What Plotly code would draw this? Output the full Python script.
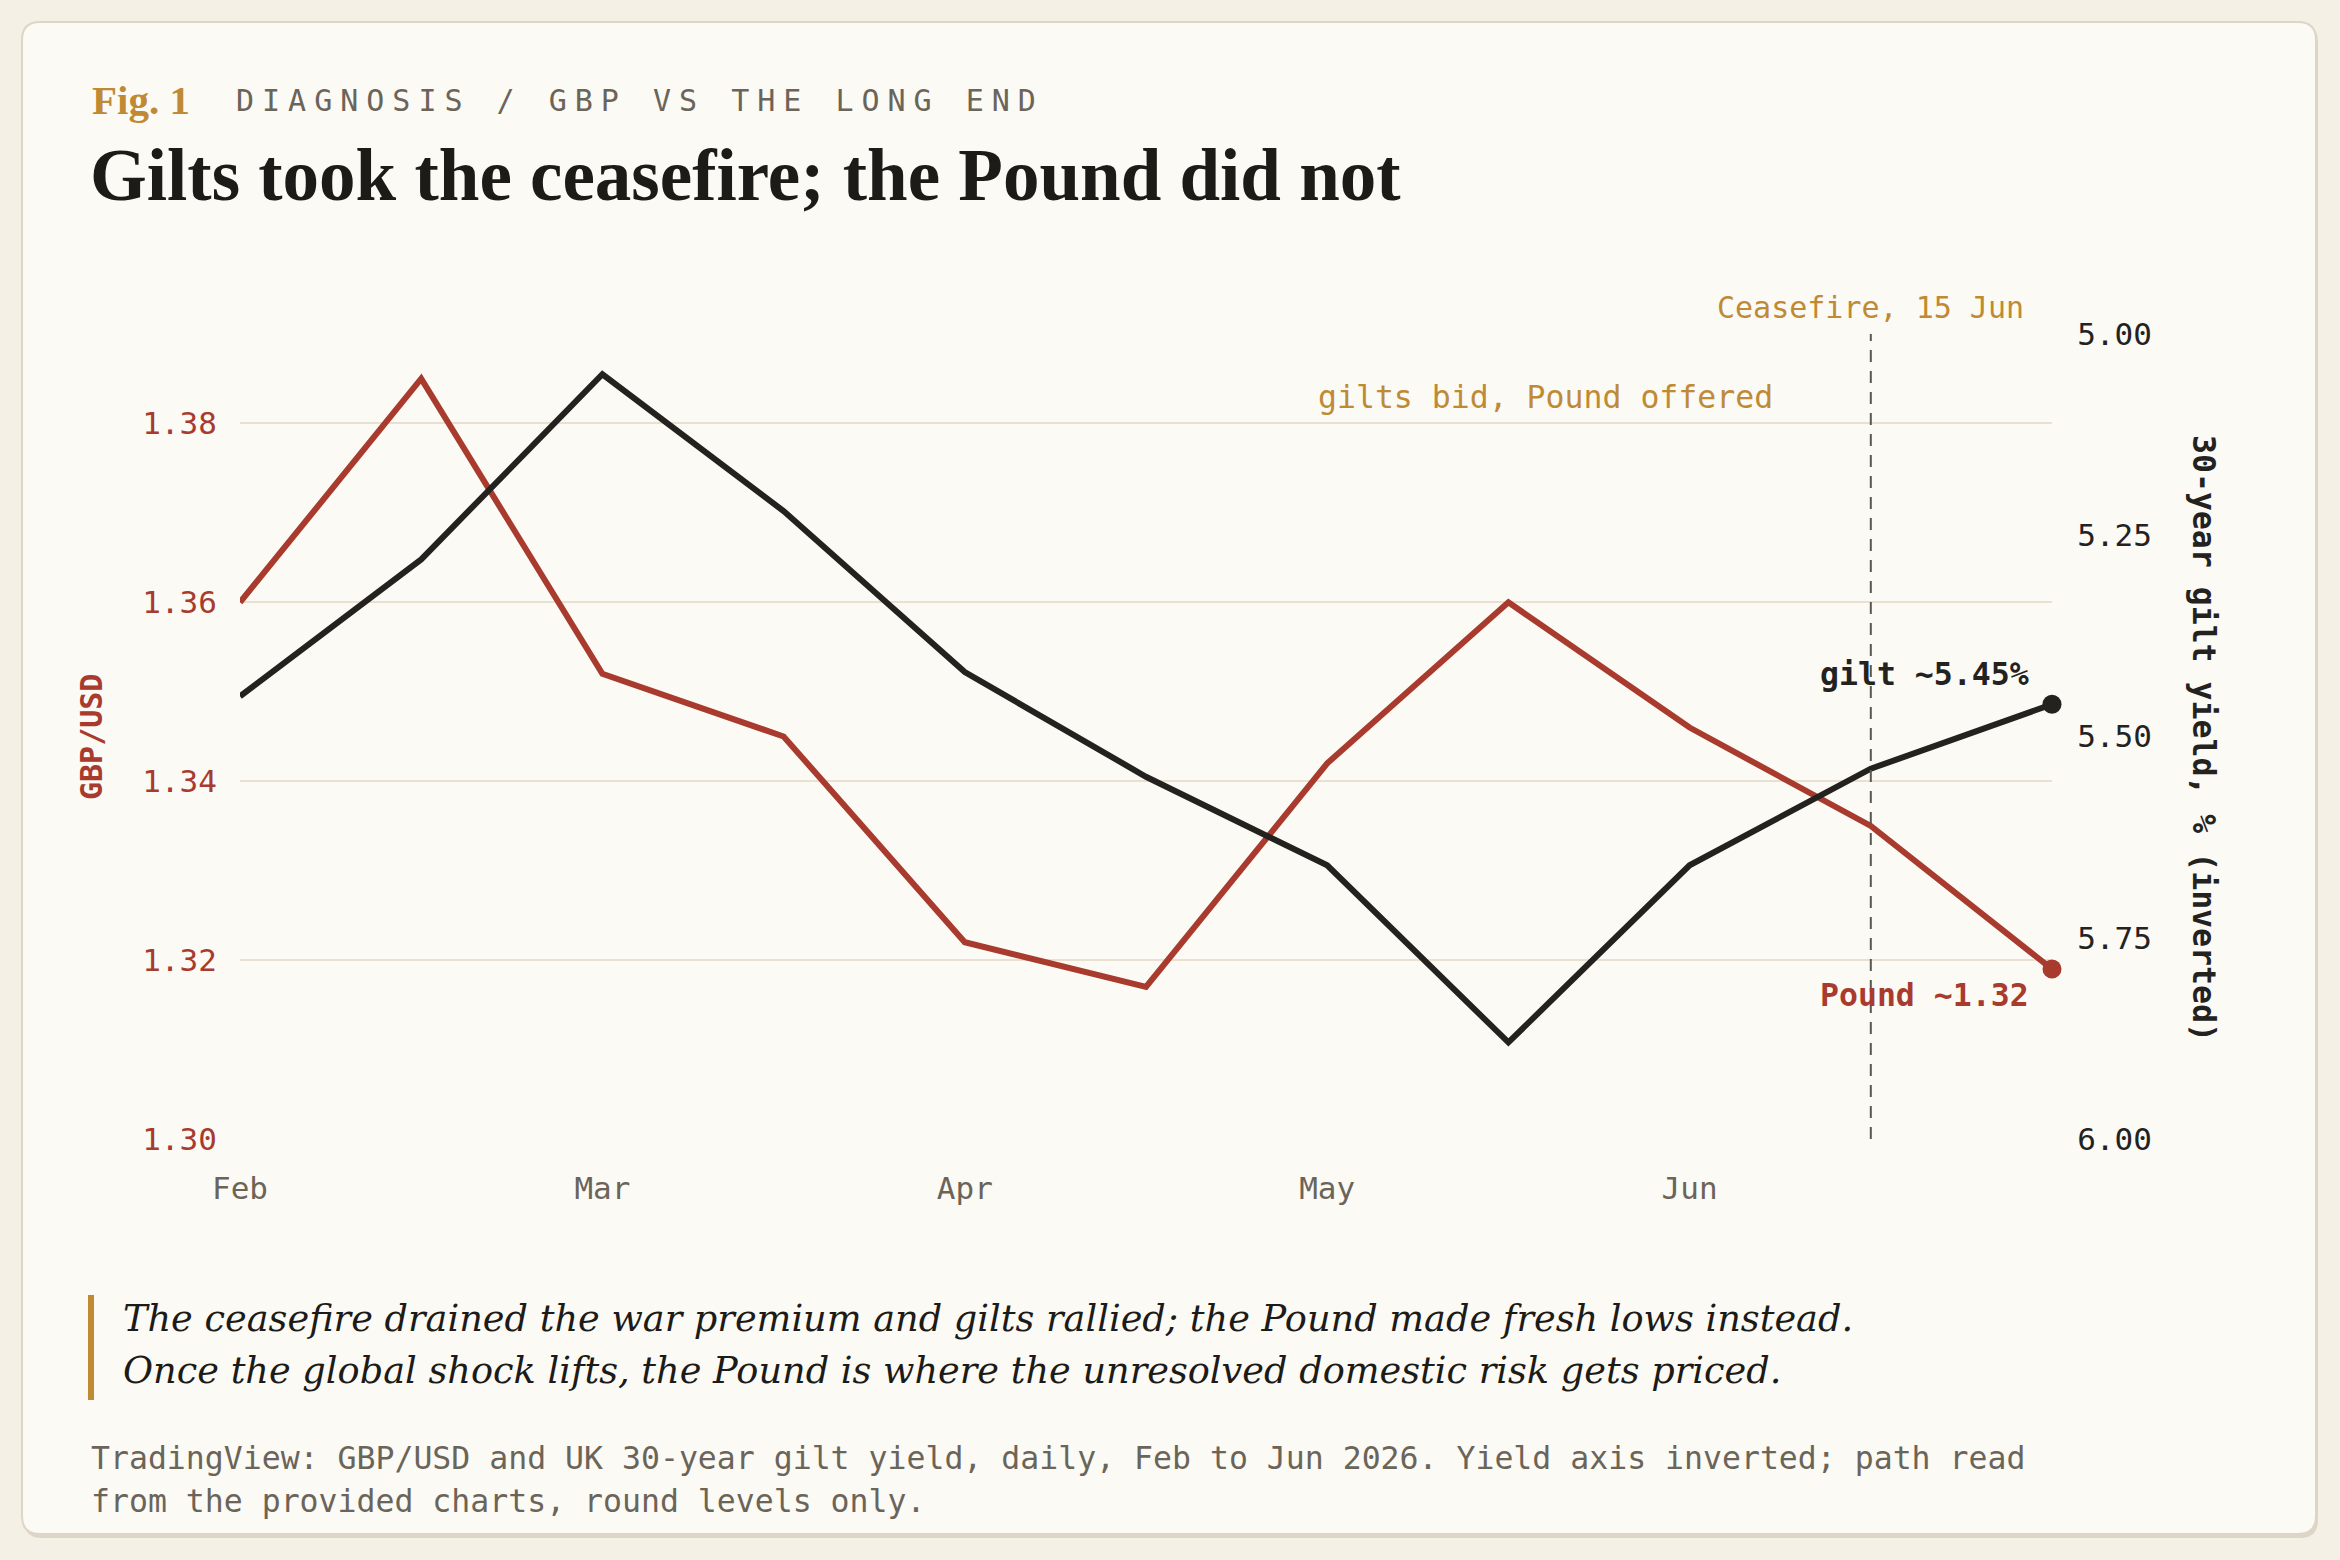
import plotly.graph_objects as go

# ---- data ----
x_pos = [0, 0.5, 1, 1.5, 2, 2.5, 3, 3.5, 4, 4.5, 5]  # months from 1 Feb, half-month steps
gbpusd = [1.360, 1.385, 1.352, 1.345, 1.322, 1.317, 1.342, 1.360, 1.346, 1.335, 1.319]
gilt30 = [5.45, 5.28, 5.05, 5.22, 5.42, 5.55, 5.66, 5.88, 5.66, 5.54, 5.46]
month_ticks = [0, 1, 2, 3, 4]
month_labels = ["Feb", "Mar", "Apr", "May", "Jun"]
left_ticks = [1.30, 1.32, 1.34, 1.36, 1.38]
right_ticks = [5.00, 5.25, 5.50, 5.75, 6.00]
ceasefire_x = 4.5

# ---- style ----
W, H = 2340, 1560
PL, PR, PT, PB = 240, 2052, 334, 1139
RED = "#a83a2e"
INK = "#23221f"
GOLD = "#c08a35"
MUTED = "#6b6459"
GRID = "#e9e0cf"
CARD = "#fbfaf5"
BG = "#f4f0e6"
MONO = "DejaVu Sans Mono, Liberation Mono, monospace"
SERIF = "Liberation Serif, DejaVu Serif, serif"


def px(xp):
    return (xp - PL) / (PR - PL)


def py(yp):
    return (PB - yp) / (PB - PT)


fig = go.Figure()
fig.add_trace(go.Scatter(x=x_pos, y=gbpusd, mode="lines", line=dict(color=RED, width=6),
                         yaxis="y", cliponaxis=False, hoverinfo="skip", showlegend=False))
fig.add_trace(go.Scatter(x=x_pos, y=gilt30, mode="lines", line=dict(color=INK, width=6),
                         yaxis="y2", cliponaxis=False, hoverinfo="skip", showlegend=False))
fig.add_trace(go.Scatter(x=[x_pos[-1]], y=[gbpusd[-1]], mode="markers",
                         marker=dict(color=RED, size=19), yaxis="y", cliponaxis=False,
                         hoverinfo="skip", showlegend=False))
fig.add_trace(go.Scatter(x=[x_pos[-1]], y=[gilt30[-1]], mode="markers",
                         marker=dict(color=INK, size=19), yaxis="y2", cliponaxis=False,
                         hoverinfo="skip", showlegend=False))


def card_path(top, bottom, left, right, r):
    x0, x1 = px(left), px(right)
    y0, y1 = py(bottom), py(top)
    rx, ry = r / (PR - PL), r / (PB - PT)
    return (f"M {x0+rx},{y1} L {x1-rx},{y1} Q {x1},{y1} {x1},{y1-ry} "
            f"L {x1},{y0+ry} Q {x1},{y0} {x1-rx},{y0} L {x0+rx},{y0} "
            f"Q {x0},{y0} {x0},{y0+ry} L {x0},{y1-ry} Q {x0},{y1} {x0+rx},{y1} Z")


shapes = [
    dict(type="path", path=card_path(24, 1538, 24, 2318, 18), xref="paper", yref="paper",
         fillcolor="#dcd6c6", line=dict(width=0), layer="below"),
    dict(type="path", path=card_path(22, 1534, 22, 2316, 18), xref="paper", yref="paper",
         fillcolor=CARD, line=dict(color="#ddd6c6", width=2), layer="below"),
    dict(type="line", x0=ceasefire_x, x1=ceasefire_x, xref="x", y0=0, y1=1, yref="paper",
         line=dict(color="#5a5750", width=2, dash="12px,9px")),
    dict(type="rect", x0=px(88), x1=px(94), y0=py(1400), y1=py(1295), xref="paper", yref="paper",
         fillcolor=GOLD, line=dict(width=0)),
]

ann = []
ann.append(dict(text="<b>Fig. 1</b>", x=px(90), y=py(100), xref="paper", yref="paper",
                xanchor="left", yanchor="middle", showarrow=False,
                font=dict(family=SERIF, size=41, color=GOLD)))
ann.append(dict(text='<span style="letter-spacing:8px">DIAGNOSIS / GBP VS THE LONG END</span>',
                x=px(234), y=py(100), xref="paper", yref="paper",
                xanchor="left", yanchor="middle", showarrow=False,
                font=dict(family=MONO, size=30, color=MUTED)))
ann.append(dict(text="<b>Gilts took the ceasefire; the Pound did not</b>", x=px(88), y=py(176),
                xref="paper", yref="paper", xanchor="left", yanchor="middle", showarrow=False,
                font=dict(family=SERIF, size=73, color="#1d1b17")))
ann.append(dict(text="Ceasefire, 15 Jun", x=ceasefire_x, xref="x", y=py(307), yref="paper",
                xanchor="center", yanchor="middle", showarrow=False,
                font=dict(family=MONO, size=30, color=GOLD)))
ann.append(dict(text="gilts bid, Pound offered", x=px(1545), xref="paper", y=py(397), yref="paper",
                xanchor="center", yanchor="middle", showarrow=False,
                font=dict(family=MONO, size=31.5, color=GOLD)))
ann.append(dict(text="<b>gilt ~5.45%</b>", x=px(2031), xref="paper", y=py(674), yref="paper",
                xanchor="right", yanchor="middle", showarrow=False,
                font=dict(family=MONO, size=31.5, color=INK)))
ann.append(dict(text="<b>Pound ~1.32</b>", x=px(2031), xref="paper", y=py(995), yref="paper",
                xanchor="right", yanchor="middle", showarrow=False,
                font=dict(family=MONO, size=31.5, color=RED)))
ann.append(dict(text="<b>GBP/USD</b>", x=px(91), xref="paper", y=py(737), yref="paper",
                xanchor="center", yanchor="middle", textangle=-90, showarrow=False,
                font=dict(family=MONO, size=30, color=RED)))
ann.append(dict(text="<b>30-year gilt yield, % (inverted)</b>", x=px(2204), xref="paper",
                y=py(738), yref="paper", xanchor="center", yanchor="middle", textangle=90,
                showarrow=False, font=dict(family=MONO, size=31.5, color=INK)))
ann.append(dict(text="<i>The ceasefire drained the war premium and gilts rallied; the Pound made fresh lows instead.</i>",
                x=px(121), xref="paper", y=py(1318), yref="paper", xanchor="left", yanchor="middle",
                showarrow=False, font=dict(family="DejaVu Serif, serif", size=36.7, color="#1d1b17")))
ann.append(dict(text="<i>Once the global shock lifts, the Pound is where the unresolved domestic risk gets priced.</i>",
                x=px(121), xref="paper", y=py(1370), yref="paper", xanchor="left", yanchor="middle",
                showarrow=False, font=dict(family="DejaVu Serif, serif", size=36.7, color="#1d1b17")))
ann.append(dict(text="TradingView: GBP/USD and UK 30-year gilt yield, daily, Feb to Jun 2026. Yield axis inverted; path read",
                x=px(89), xref="paper", y=py(1458), yref="paper", xanchor="left", yanchor="middle",
                showarrow=False, font=dict(family=MONO, size=31.5, color=MUTED)))
ann.append(dict(text="from the provided charts, round levels only.",
                x=px(89), xref="paper", y=py(1501), yref="paper", xanchor="left", yanchor="middle",
                showarrow=False, font=dict(family=MONO, size=31.5, color=MUTED)))

fig.update_layout(
    width=W, height=H, autosize=False,
    margin=dict(l=PL, r=W - PR, t=PT, b=H - PB, pad=0),
    paper_bgcolor=BG, plot_bgcolor="rgba(0,0,0,0)",
    showlegend=False,
    shapes=shapes, annotations=ann,
    xaxis=dict(range=[0, 5], tickvals=month_ticks, ticktext=month_labels, showgrid=False,
               zeroline=False, showline=False, ticks="outside", ticklen=22,
               tickcolor="rgba(0,0,0,0)", tickfont=dict(family=MONO, size=31, color=MUTED)),
    yaxis=dict(range=[1.30, 1.39], tickvals=left_ticks, tickformat=".2f", showgrid=True,
               gridcolor=GRID, gridwidth=2, zeroline=False, showline=False, ticks="outside",
               ticklen=16, tickcolor="rgba(0,0,0,0)",
               tickfont=dict(family=MONO, size=31, color=RED)),
    yaxis2=dict(range=[6.0, 5.0], tickvals=right_ticks, tickformat=".2f", overlaying="y",
                side="right", showgrid=False, zeroline=False, showline=False, ticks="outside",
                ticklen=18, tickcolor="rgba(0,0,0,0)",
                tickfont=dict(family=MONO, size=31, color=INK)),
)

fig.write_html("out.html", config={"displayModeBar": False},
               post_script="document.body.style.margin='0px';document.body.style.background='" + BG + "';")
